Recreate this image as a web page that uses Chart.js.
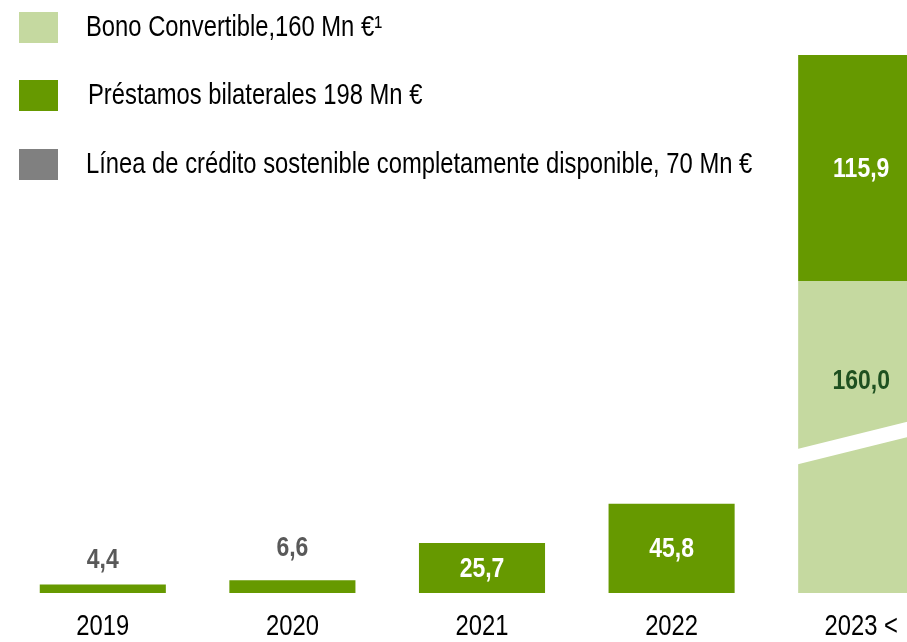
<!DOCTYPE html>
<html lang="es">
<head>
<meta charset="UTF-8">
<title>Deuda</title>
<script src="https://cdn.jsdelivr.net/npm/chart.js"></script>
<style>
  html, body { margin: 0; padding: 0; background: #fff; overflow: hidden; }
  #wrap { position: relative; width: 907px; height: 642px; overflow: hidden; }
  #chartBox { position: absolute; left: 0; top: 0; width: 960px; height: 642px; }
  #legend { position: absolute; left: 19px; top: 12px; font-family: 'Liberation Sans', Arial, sans-serif; font-size: 29px; color: #000; }
  .item { position: absolute; left: 0; white-space: nowrap; height: 31px; }
  .box { position: absolute; left: 0; top: 0; width: 39px; height: 31px; }
  .txt { position: absolute; left: 67px; top: -2px; line-height: normal; transform: scaleX(0.82); transform-origin: 0 0; }
</style>
</head>
<body>
<div id="wrap">
  <div id="chartBox"><canvas id="debtChart"></canvas></div>
  <div id="legend"></div>
</div>
<script>
const categories = ['2019', '2020', '2021', '2022', '2023 <'];
const bonoConvertible = [0, 0, 0, 0, 160.0];
const prestamosBilaterales = [4.4, 6.6, 25.7, 45.8, 115.9];
const lineaCredito = [0, 0, 0, 0, 0];
const seriesNames = [
    'Bono Convertible,160 Mn €¹',
    'Préstamos bilaterales 198 Mn €',
    'Línea de crédito sostenible completamente disponible, 70 Mn €'
];
const seriesColors = ['#c5d9a0', '#669900', '#808080'];

const FONT = "'Liberation Sans', Arial, sans-serif";
const NARROW = 0.82;   // the original uses a condensed face

// HTML legend, stacked vertically at the top left
const legend = document.getElementById('legend');
const legendTops = [0, 68, 137];
const textShift = [0, 2, 0];
seriesNames.forEach((name, i) => {
    const item = document.createElement('div');
    item.className = 'item';
    item.style.top = legendTops[i] + 'px';
    item.innerHTML = '<div class="box" style="background:' + seriesColors[i] + '"></div>' +
        '<div class="txt" style="left:' + (67 + textShift[i]) + 'px">' + name + '</div>';
    legend.appendChild(item);
});

function fmt(v) {
    return v.toFixed(1).replace('.', ',');
}

function narrowText(ctx, text, x, y) {
    ctx.save();
    ctx.translate(x, y);
    ctx.scale(NARROW, 1);
    ctx.fillText(text, 0, 0);
    ctx.restore();
}

// white diagonal break through the tall bar
const breakPlugin = {
    id: 'breakLine',
    afterDatasetsDraw(chart) {
        const ctx = chart.ctx;
        const y = chart.scales.y;
        const bar = chart.getDatasetMeta(0).data[4];
        const left = bar.x - bar.width / 2;
        const right = bar.x + bar.width / 2;
        const yl = y.getPixelForValue(70);
        const yr = y.getPixelForValue(86);
        ctx.save();
        ctx.strokeStyle = '#ffffff';
        ctx.lineWidth = 15;
        ctx.beginPath();
        ctx.moveTo(left - 4, yl + 1);
        ctx.lineTo(right + 4, yr - 1);
        ctx.stroke();
        ctx.restore();
        chart.$breakY = yl;
    }
};

const labelPlugin = {
    id: 'valueLabels',
    afterDatasetsDraw(chart) {
        const ctx = chart.ctx;
        ctx.save();
        ctx.font = 'bold 28px ' + FONT;
        ctx.textAlign = 'center';
        ctx.textBaseline = 'middle';
        chart.data.datasets.forEach((ds, di) => {
            const meta = chart.getDatasetMeta(di);
            meta.data.forEach((bar, i) => {
                const v = ds.data[i];
                if (!v) return;
                const h = bar.base - bar.y;
                if (di === 0) {
                    ctx.fillStyle = '#1e5020';
                    const by = chart.$breakY || bar.base;
                    narrowText(ctx, fmt(v), bar.x, bar.y + (by - bar.y) * 0.57);
                } else if (h < 30) {
                    ctx.fillStyle = '#595959';
                    narrowText(ctx, fmt(v), bar.x, bar.y - 23 - (h - 8) * 1.8);
                } else {
                    ctx.fillStyle = '#ffffff';
                    narrowText(ctx, fmt(v), bar.x, (bar.y + bar.base) / 2 + 1);
                }
            });
        });
        // category labels under the bars
        ctx.font = '29px ' + FONT;
        ctx.fillStyle = '#000';
        const xs = chart.scales.x;
        categories.forEach((c, i) => {
            narrowText(ctx, c, xs.getPixelForValue(i), chart.chartArea.bottom + 34);
        });
        ctx.restore();
    }
};

new Chart(document.getElementById('debtChart'), {
    type: 'bar',
    data: {
        labels: categories,
        datasets: [
            { label: seriesNames[0], data: bonoConvertible, backgroundColor: seriesColors[0] },
            { label: seriesNames[1], data: prestamosBilaterales, backgroundColor: seriesColors[1] },
            { label: seriesNames[2], data: lineaCredito, backgroundColor: seriesColors[2] }
        ]
    },
    options: {
        responsive: true,
        maintainAspectRatio: false,
        animation: false,
        datasets: {
            bar: { categoryPercentage: 1, barPercentage: 0.665 }
        },
        layout: { padding: { left: 8, right: 4, top: 8, bottom: 41 } },
        scales: {
            x: {
                stacked: true,
                grid: { display: false },
                border: { display: false },
                ticks: { display: false }
            },
            y: {
                stacked: true,
                display: false,
                min: 0,
                max: 300
            }
        },
        plugins: {
            legend: { display: false },
            tooltip: { enabled: false }
        }
    },
    plugins: [breakPlugin, labelPlugin]
});
</script>
</body>
</html>
